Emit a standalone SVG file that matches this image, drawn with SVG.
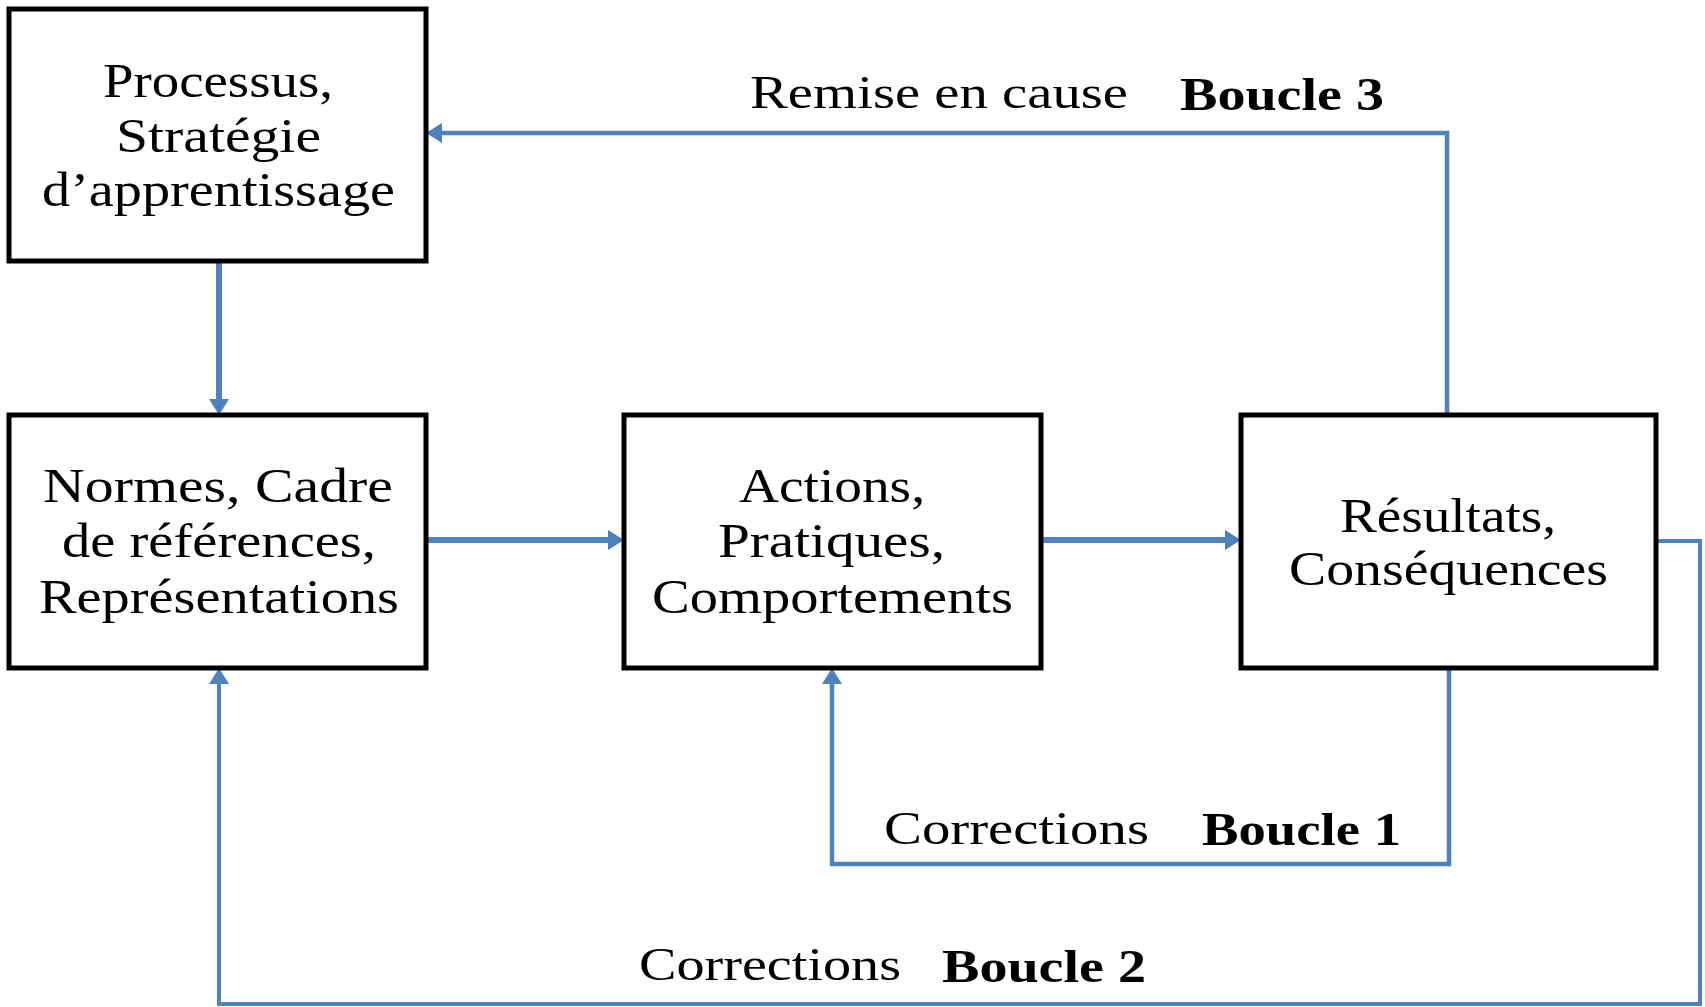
<svg xmlns="http://www.w3.org/2000/svg" width="1705" height="1007" viewBox="0 0 1705 1007">
<style>
.box{fill:#fff;stroke:#000;stroke-width:5}
.t{font-family:"Liberation Serif","Times New Roman",serif;font-size:48px;fill:#000;text-anchor:start}
.l{font-family:"Liberation Serif","Times New Roman",serif;font-size:46px;fill:#000}
.b{font-weight:bold}
.c{fill:none;stroke:#4F81BD;stroke-linejoin:miter}
</style>
<defs>
<marker id="ah" viewBox="0 0 16 20" refX="0" refY="10" markerWidth="16" markerHeight="20" markerUnits="userSpaceOnUse" orient="auto">
<path d="M0,0 L16,10 L0,20 Z" fill="#4F81BD"/>
</marker>
</defs>
<rect width="1705" height="1007" fill="#fff"/>
<g id="connectors">
<path class="c" stroke-width="6" d="M219,261 V399" marker-end="url(#ah)"/>
<path class="c" stroke-width="6" d="M426,540 H608" marker-end="url(#ah)"/>
<path class="c" stroke-width="6" d="M1041,540 H1225" marker-end="url(#ah)"/>
<path class="c" stroke-width="4.5" d="M1447,415 V133 H442" marker-end="url(#ah)"/>
<path class="c" stroke-width="4.5" d="M1449,668 V864 H832 V684" marker-end="url(#ah)"/>
<path class="c" stroke-width="4" d="M1656,541 H1700 V1004 H219 V684" marker-end="url(#ah)"/>
</g>
<g id="labels">
<text class="l" x="750" y="108" textLength="378" lengthAdjust="spacingAndGlyphs">Remise  en cause</text>
<text class="l b" x="1180" y="110" textLength="204" lengthAdjust="spacingAndGlyphs">Boucle 3</text>
<text class="l" x="884" y="844" textLength="265" lengthAdjust="spacingAndGlyphs">Corrections</text>
<text class="l b" x="1202" y="845" textLength="199" lengthAdjust="spacingAndGlyphs">Boucle 1</text>
<text class="l" x="639" y="980" textLength="262" lengthAdjust="spacingAndGlyphs">Corrections</text>
<text class="l b" x="942" y="982" textLength="204" lengthAdjust="spacingAndGlyphs">Boucle 2</text>
</g>
<g id="node-processus">
<rect class="box" x="9" y="9" width="417" height="252"/>
<text class="t" x="103" y="97" textLength="230" lengthAdjust="spacingAndGlyphs">Processus,</text>
<text class="t" x="116" y="152" textLength="205" lengthAdjust="spacingAndGlyphs">Stratégie</text>
<text class="t" x="42" y="206" textLength="353" lengthAdjust="spacingAndGlyphs">d’apprentissage</text>
</g>
<g id="node-normes">
<rect class="box" x="9" y="415" width="417" height="253"/>
<text class="t" x="43" y="502" textLength="350" lengthAdjust="spacingAndGlyphs">Normes,  Cadre</text>
<text class="t" x="62" y="557" textLength="314" lengthAdjust="spacingAndGlyphs">de références,</text>
<text class="t" x="39" y="613" textLength="360" lengthAdjust="spacingAndGlyphs">Représentations</text>
</g>
<g id="node-actions">
<rect class="box" x="624" y="415" width="417" height="253"/>
<text class="t" x="739" y="502" textLength="186" lengthAdjust="spacingAndGlyphs">Actions,</text>
<text class="t" x="718" y="557" textLength="227" lengthAdjust="spacingAndGlyphs">Pratiques,</text>
<text class="t" x="652" y="613" textLength="361" lengthAdjust="spacingAndGlyphs">Comportements</text>
</g>
<g id="node-resultats">
<rect class="box" x="1241" y="415" width="415" height="253"/>
<text class="t" x="1340" y="532" textLength="216" lengthAdjust="spacingAndGlyphs">Résultats,</text>
<text class="t" x="1289" y="585" textLength="319" lengthAdjust="spacingAndGlyphs">Conséquences</text>
</g>
</svg>
